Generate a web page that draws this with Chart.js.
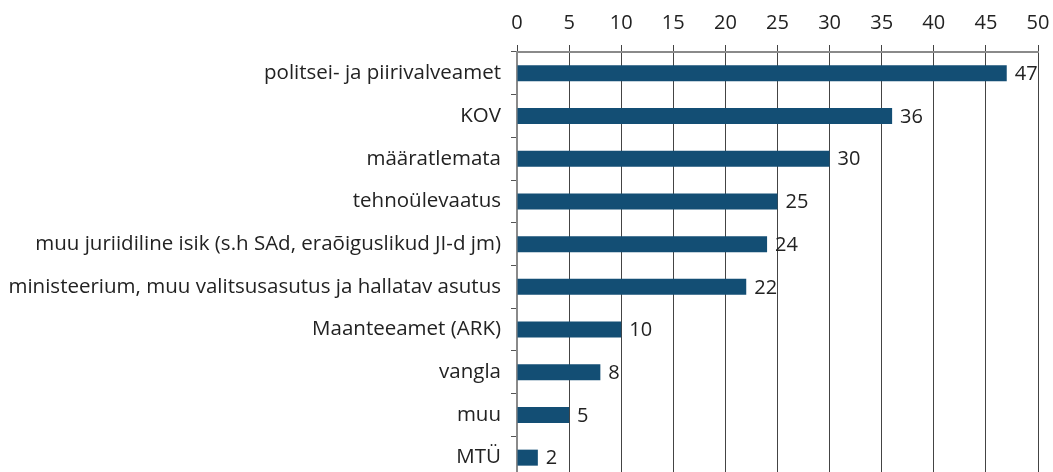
<!DOCTYPE html>
<html>
<head>
<meta charset="utf-8">
<script src="https://cdn.jsdelivr.net/npm/chart.js@4/dist/chart.umd.min.js"></script>
<style>
  html, body { margin: 0; padding: 0; background: #fff; overflow: hidden; }
  canvas { display: block; }
</style>
</head>
<body>
<canvas id="bar-chart" width="1053" height="480"></canvas>
<script>
var categories = [
  'politsei- ja piirivalveamet',
  'KOV',
  'määratlemata',
  'tehnoülevaatus',
  'muu juriidiline isik (s.h SAd, eraõiguslikud JI-d jm)',
  'ministeerium, muu valitsusasutus ja hallatav asutus',
  'Maanteeamet (ARK)',
  'vangla',
  'muu',
  'MTÜ'
];
var values = [47, 36, 30, 25, 24, 22, 10, 8, 5, 2];
var xMin = 0, xMax = 50, xStep = 5;

var fontFamily = '"Open Sans", "Liberation Sans", sans-serif';

var valueLabels = {
  id: 'valueLabels',
  afterDatasetsDraw: function(chart) {
    var ctx = chart.ctx;
    var meta = chart.getDatasetMeta(0);
    ctx.save();
    ctx.font = '20px ' + fontFamily;
    ctx.fillStyle = '#222';
    ctx.textBaseline = 'middle';
    ctx.textAlign = 'left';
    meta.data.forEach(function(bar, i) {
      ctx.fillText(String(values[i]), bar.x + 8, bar.y + 1);
    });
    ctx.restore();
  }
};

new Chart(document.getElementById('bar-chart'), {
  type: 'bar',
  data: {
    labels: categories,
    datasets: [{
      data: values,
      backgroundColor: '#134e74',
      barPercentage: 0.375,
      categoryPercentage: 1
    }]
  },
  plugins: [valueLabels],
  options: {
    indexAxis: 'y',
    responsive: false,
    animation: false,
    layout: { padding: { left: 0, right: 15, top: 0, bottom: 1 } },
    plugins: { legend: { display: false }, tooltip: { enabled: false } },
    scales: {
      x: {
        position: 'top',
        min: xMin,
        max: xMax,
        ticks: { stepSize: xStep, color: '#222', padding: 10, font: { family: fontFamily, size: 20 } },
        grid: { color: '#444', lineWidth: 1, tickLength: 7, drawTicks: true },
        border: { color: '#8a8a8a', width: 2 },
        afterFit: function(s) { s.height = 52; s.paddingLeft = 0; s.paddingRight = 0; }
      },
      y: {
        ticks: { color: '#222', padding: 10, font: { family: fontFamily, size: 20.5 } },
        grid: { offset: true, drawOnChartArea: false, color: '#555', tickLength: 6 },
        border: { color: '#8a8a8a', width: 2 },
        afterFit: function(s) { s.width = 517; s.paddingTop = 0; s.paddingBottom = 0; }
      }
    }
  }
});
</script>
</body>
</html>
